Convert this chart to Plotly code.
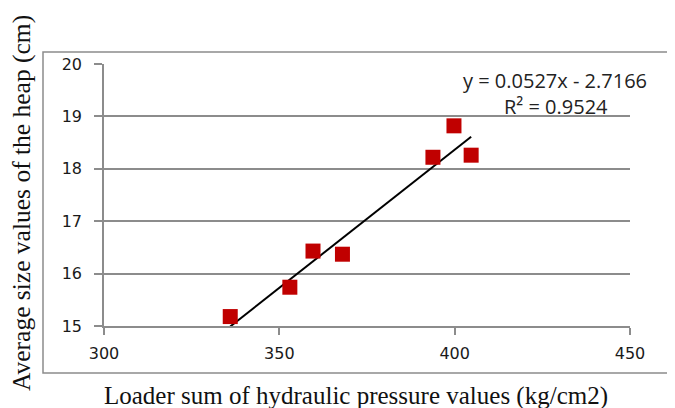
import plotly.graph_objects as go

# Data
pressure = [336, 353, 359.6, 368, 393.8, 399.8, 404.7]
heap_size = [15.18, 15.74, 16.43, 16.37, 18.22, 18.82, 18.26]

slope = 0.0527
intercept = -2.7166
eq_text = "y = 0.0527x - 2.7166"
r2_text = "R² = 0.9524"

x_ticks = [300, 350, 400, 450]
y_ticks = [15, 16, 17, 18, 19, 20]

x_title = "Loader sum of hydraulic pressure values (kg/cm2)"
y_title = "Average size values of the heap (cm)"

trend_x = [min(pressure), max(pressure)]
trend_y = [slope * v + intercept for v in trend_x]

fig = go.Figure()
fig.add_trace(go.Scatter(
    x=trend_x, y=trend_y, mode="lines",
    line=dict(color="black", width=2), showlegend=False))
fig.add_trace(go.Scatter(
    x=pressure, y=heap_size, mode="markers",
    marker=dict(symbol="square", size=15, color="#C00000", line=dict(width=0)),
    showlegend=False, cliponaxis=False))

OFF = 8  # browser body margin
W, H = 675 - OFF, 408 - OFF
L, R, T, B = 104 - OFF, 45, 64 - OFF, 82
pw, ph = W - L - R, H - T - B

def px_x(p):
    return (p - OFF - L) / pw

def px_y(p):
    return (H - B - (p - OFF)) / ph

tick_font = dict(family="DejaVu Sans", size=16, color="#1a1a1a")

fig.update_layout(
    width=W, height=H,
    margin=dict(l=L, r=R, t=T, b=B),
    paper_bgcolor="white", plot_bgcolor="white",
    font=tick_font,
    xaxis=dict(range=[300, 450], tickvals=x_ticks, showgrid=False,
               showline=True, linecolor="#8c8c8c", linewidth=1.5,
               ticks="outside", ticklen=7, tickcolor="#8c8c8c", tickwidth=1.5,
               zeroline=False, tickfont=tick_font, ticklabelstandoff=5),
    yaxis=dict(range=[15, 20], tickvals=y_ticks, showgrid=True,
               gridcolor="#8c8c8c", gridwidth=1.5,
               showline=True, linecolor="#8c8c8c", linewidth=1.5,
               ticks="outside", ticklen=8, tickcolor="#8c8c8c", tickwidth=1.5,
               zeroline=False, ticklabelstandoff=9, tickfont=tick_font),
    shapes=[dict(type="rect", xref="paper", yref="paper",
                 x0=px_x(43), x1=px_x(690), y0=px_y(373), y1=px_y(52),
                 line=dict(color="#8c8c8c", width=1.5), layer="below")],
    annotations=[
        dict(text=eq_text, xref="paper", yref="paper", x=px_x(555), y=px_y(80),
             showarrow=False, xanchor="center", yanchor="middle",
             font=dict(family="Open Sans", size=20, color="#222")),
        dict(text=r2_text, xref="paper", yref="paper", x=px_x(556), y=px_y(106),
             showarrow=False, xanchor="center", yanchor="middle",
             font=dict(family="Open Sans", size=20, color="#222")),
        dict(text=x_title, xref="paper", yref="paper", x=px_x(356), y=px_y(396),
             showarrow=False, xanchor="center", yanchor="middle",
             font=dict(family="Liberation Serif", size=25, color="#111")),
        dict(text=y_title, xref="paper", yref="paper", x=px_x(21), y=px_y(203),
             showarrow=False, xanchor="center", yanchor="middle", textangle=-90,
             font=dict(family="Liberation Serif", size=25.5, color="#111")),
    ],
)

fig.write_html("out.html")
